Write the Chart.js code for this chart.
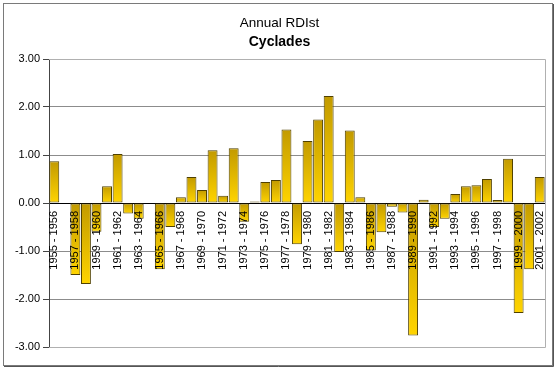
<!DOCTYPE html>
<html>
<head>
<meta charset="utf-8">
<script src="https://cdn.jsdelivr.net/npm/chart.js@4.4.0/dist/chart.umd.min.js"></script>
<style>
  html, body { margin: 0; padding: 0; background: #fff; }
  #wrap { width: 559px; height: 372px; position: relative; }
</style>
</head>
<body>
<div id="wrap"><canvas id="myChart" width="559" height="372"></canvas></div>
<script>
// hydrological years, first year of each pair
var startYears = [1955, 1956, 1957, 1958, 1959, 1960, 1961, 1962, 1963, 1964,
    1965, 1966, 1967, 1968, 1969, 1970, 1971, 1972, 1973, 1974,
    1975, 1976, 1977, 1978, 1979, 1980, 1981, 1982, 1983, 1984,
    1985, 1986, 1987, 1988, 1989, 1990, 1991, 1992, 1993, 1994,
    1995, 1996, 1997, 1998, 1999, 2000, 2001];

// annual RDIst values
var rdiValues = [0.87, -0.01, -1.50, -1.69, -0.60, 0.35, 1.02, -0.22, -0.33, -0.01,
    -1.38, -0.50, 0.12, 0.54, 0.27, 1.10, 0.15, 1.14, -0.39, 0.03,
    0.44, 0.48, 1.53, -0.86, 1.29, 1.74, 2.23, -1.02, 1.51, 0.12,
    -0.99, -0.61, -0.08, -0.20, -2.76, 0.07, -0.50, -0.33, 0.19, 0.35,
    0.37, 0.50, 0.06, 0.92, -2.29, -1.38, 0.54];

var yTicks = [-3, -2, -1, 0, 1, 2, 3];

var labels = startYears.map(function (y) { return y + ' - ' + (y + 1); });

// per bar gradient, dark gold at the top to bright yellow at the bottom
function barFill(ctx) {
    var chart = ctx.chart;
    if (!chart.chartArea || !ctx.parsed) return '#E0B800';
    var ys = chart.scales.y;
    var p1 = ys.getPixelForValue(ctx.parsed.y);
    var p0 = ys.getPixelForValue(0);
    var top = Math.min(p0, p1), bottom = Math.max(p0, p1);
    if (bottom - top < 1) bottom = top + 1;
    var g = chart.ctx.createLinearGradient(0, top, 0, bottom);
    g.addColorStop(0, '#C29A00');
    g.addColorStop(1, '#FFD400');
    return g;
}

// category labels sit just under the zero line, on top of the bars
var zeroLabels = {
    id: 'zeroLabels',
    afterDatasetsDraw: function (chart) {
        var c = chart.ctx, xs = chart.scales.x, ys = chart.scales.y;
        var y0 = ys.getPixelForValue(0) + 8;
        c.save();
        c.fillStyle = '#000';
        c.font = '11px "Liberation Sans", Arial';
        c.textAlign = 'right';
        c.textBaseline = 'middle';
        labels.forEach(function (lab, i) {
            if (i % 2 !== 0) return;
            c.save();
            c.translate(xs.getPixelForValue(i), y0);
            c.rotate(-Math.PI / 2);
            c.fillText(lab, 0, 0);
            c.restore();
        });
        c.restore();
    }
};

var frame = {
    id: 'frame',
    afterDraw: function (chart) {
        var c = chart.ctx, a = chart.chartArea;
        c.save();
        // plot area border
        c.strokeStyle = '#b0b0b0';
        c.lineWidth = 1;
        c.beginPath();
        c.moveTo(a.left, a.top + 0.5);
        c.lineTo(a.right + 0.5, a.top + 0.5);
        c.lineTo(a.right + 0.5, a.bottom + 0.5);
        c.lineTo(a.left, a.bottom + 0.5);
        c.stroke();
        // outer chart border
        c.strokeStyle = '#7a7a7a';
        c.strokeRect(3.5, 3.5, 549, 362);
        c.strokeStyle = '#555';
        c.beginPath();
        c.moveTo(553.5, 4);
        c.lineTo(553.5, 366.5);
        c.lineTo(4, 366.5);
        c.stroke();
        c.restore();
    }
};

var ctx = document.getElementById('myChart').getContext('2d');
var myChart = new Chart(ctx, {
    type: 'bar',
    data: {
        labels: labels,
        datasets: [{
            data: rdiValues,
            backgroundColor: barFill,
            borderColor: '#4f4000',
            borderWidth: 1,
            borderSkipped: false,
            barPercentage: 0.94,
            categoryPercentage: 1.0
        }]
    },
    options: {
        responsive: false,
        animation: false,
        layout: { padding: { left: 14, right: 14, bottom: 25, top: 0 } },
        plugins: {
            legend: { display: false },
            tooltip: { enabled: false },
            title: {
                display: true,
                text: 'Annual RDIst',
                color: '#000',
                font: { family: 'Liberation Sans, Arial', size: 13.5, weight: 'normal' },
                padding: { top: 15.5, bottom: 2 }
            },
            subtitle: {
                display: true,
                text: 'Cyclades',
                color: '#000',
                font: { family: 'Liberation Sans, Arial', size: 14, weight: 'bold' },
                padding: { top: 0, bottom: 8.5 }
            }
        },
        scales: {
            x: {
                position: { y: 0 },
                grid: { display: false, drawTicks: false },
                border: { display: false },
                ticks: { display: false }
            },
            y: {
                min: -3,
                max: 3,
                afterBuildTicks: function (axis) {
                    axis.ticks = yTicks.map(function (v) { return { value: v }; });
                },
                afterFit: function (axis) { axis.width = 35; },
                grid: {
                    color: function (c) { return c.tick && c.tick.value === 0 ? '#000' : '#8c8c8c'; },
                    tickLength: 6,
                    tickColor: '#444'
                },
                border: { color: '#444' },
                ticks: {
                    color: '#000',
                    padding: 3,
                    font: { family: 'Liberation Sans, Arial', size: 11 },
                    callback: function (v) { return v.toFixed(2); }
                }
            }
        }
    },
    plugins: [zeroLabels, frame]
});
</script>
</body>
</html>
